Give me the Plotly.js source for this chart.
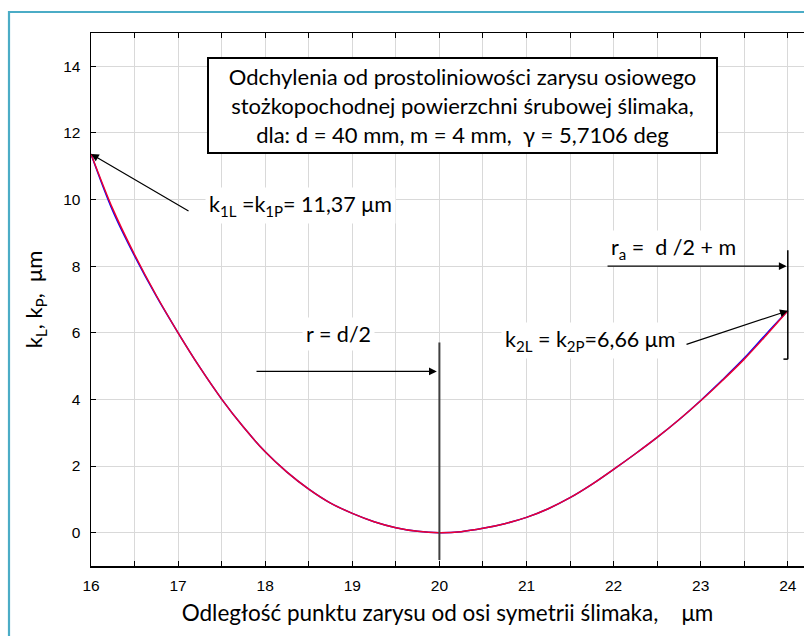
<!DOCTYPE html>
<html><head><meta charset="utf-8">
<script src="https://cdn.plot.ly/plotly-3.0.1.min.js"></script>
<style>html,body{margin:0;padding:0;background:#fff;overflow:hidden}#chart{width:804px;height:636px}</style>
</head><body><div id="chart"></div>
<script>
// distance from worm axis (x) and deviations k_L, k_P (µm)
const xVals = [16,16.25,16.5,16.75,17,17.25,17.5,17.75,18,18.25,18.5,18.75,19,19.25,19.5,19.75,20,
               20.25,20.5,20.75,21,21.25,21.5,21.75,22,22.25,22.5,22.75,23,23.25,23.5,23.75,24];
const kP = [11.37,9.72,8.35,7.12,6.00,4.96,4.01,3.17,2.43,1.82,1.31,0.89,0.58,0.33,0.15,0.04,0,
            0.03,0.13,0.27,0.46,0.72,1.05,1.45,1.90,2.37,2.86,3.39,3.96,4.57,5.21,5.92,6.66];
const kL = [11.37,9.66,8.31,7.10,6.00,4.96,4.01,3.17,2.43,1.82,1.31,0.89,0.58,0.33,0.15,0.04,0,
            0.03,0.13,0.27,0.46,0.72,1.05,1.45,1.90,2.37,2.86,3.39,3.97,4.59,5.24,5.96,6.66];
const xTickVals = [16,17,18,19,20,21,22,23,24];
const yTickVals = [0,2,4,6,8,10,12,14];
const k1 = 11.37, k2 = 6.66;
const r = 20, ra = 24;

const calib = 'Lato, "Open Sans", sans-serif';
const arial = '"Liberation Sans", Arial, sans-serif';
const NB = '\u00A0';

const traces = [
  {x:xVals, y:kL, type:'scatter', mode:'lines', name:'k_L', line:{color:'#0000ff', width:1.5, shape:'spline', smoothing:1}},
  {x:xVals, y:kP, type:'scatter', mode:'lines', name:'k_P', line:{color:'#ee0030', width:1.5, shape:'spline', smoothing:1}}
];

const ML = 91, MT = 33, MB = 70, MR = 0, W = 804, H = 636;
const PW = W - ML - MR, PH = H - MT - MB;
const px = v => (v - ML) / PW, py = v => (H - MB - v) / PH;

function arrow(x, y, ax, ay) {
  return {x:x, y:y, ax:ax, ay:ay, xref:'x', yref:'y', axref:'x', ayref:'y', text:'',
          showarrow:true, arrowhead:2, arrowsize:1.3, arrowwidth:1.2, arrowcolor:'#000'};
}
function label(x, y, text, xanchor, size) {
  return {x:x, y:y, xref:'x', yref:'y', text:text, showarrow:false, xanchor:xanchor||'center',
          yanchor:'middle', bgcolor:'#ffffff', borderpad:3, font:{family:calib, size:size||21.5, color:'#000'}};
}

const layout = {
  width:W, height:H,
  margin:{l:ML, r:MR, t:MT, b:MB},
  paper_bgcolor:'#fff', plot_bgcolor:'#fff',
  showlegend:false,
  xaxis:{
    range:[16, 16 + PW/87.1], tickvals:xTickVals, ticks:'inside', ticklen:5, tickcolor:'#000',
    showline:true, linecolor:'#000', linewidth:1.5, mirror:'ticks', zeroline:false,
    showgrid:true, gridcolor:'#d9d9d9', gridwidth:1,
    minor:{dtick:0.5, tick0:16, ticks:'inside', ticklen:5, tickcolor:'#000', showgrid:true, gridcolor:'#d9d9d9'},
    tickfont:{family:arial, size:15.5, color:'#000'}, ticklabelstandoff:5,
    title:{text:'Odległość punktu zarysu od osi symetrii ślimaka,'+NB+NB+NB+NB+'μm', font:{family:calib, size:22.5, color:'#000'}, standoff:12}
  },
  yaxis:{
    range:[-1, 15], tickvals:yTickVals, ticks:'inside', ticklen:5, tickcolor:'#000',
    showline:true, linecolor:'#000', linewidth:1.5, zeroline:false,
    showgrid:true, gridcolor:'#d9d9d9', gridwidth:1,
    tickfont:{family:arial, size:15.5, color:'#000'}, ticklabelstandoff:6,
    title:{text:'k<sub>L</sub>, k<sub>P</sub>,'+NB+NB+'μm', font:{family:calib, size:22, color:'#000'}, standoff:14}
  },
  shapes:[
    {type:'rect', xref:'paper', yref:'paper', x0:px(9), x1:px(830), y0:py(680), y1:py(12),
     line:{color:'#4bacc6', width:2.2}, fillcolor:'rgba(0,0,0,0)', layer:'above'},
    {type:'line', xref:'x', yref:'y', x0:r, x1:r, y0:-0.82, y1:5.71, line:{color:'#404040', width:2}},
    {type:'line', xref:'x', yref:'y', x0:ra, x1:ra, y0:5.21, y1:8.48, line:{color:'#000', width:1.5}},
    {type:'line', xref:'x', yref:'y', x0:ra-0.05, x1:ra, y0:5.21, y1:5.21, line:{color:'#000', width:1.5}}
  ],
  annotations:[
    {x:20.265, y:12.83, xref:'x', yref:'y', showarrow:false, align:'center',
     text:'Odchylenia od prostoliniowości zarysu osiowego<br>stożkopochodnej powierzchni śrubowej ślimaka,<br>dla: d = 40 mm, m = 4 mm,'+NB+NB+'γ = 5,7106 deg',
     bgcolor:'#fff', bordercolor:'#000', borderwidth:2, width:505, height:91,
     font:{family:calib, size:22, color:'#000'}},
    arrow(16, k1, 17.137, 9.63),
    label(17.31, 9.81, 'k<sub>1L</sub> =k<sub>1P</sub>= 11,37 μm', 'left'),
    label(18.836, 5.97, 'r = d/2'),
    arrow(19.97, 4.84, 17.883, 4.84),
    label(22.693, 8.52, 'r<sub>a</sub> ='+NB+NB+'d /2 + m'),
    arrow(23.987, 8.0, 21.913, 8.0),
    label(22.751, 5.76, 'k<sub>2L</sub> = k<sub>2P</sub>=6,66 μm', 'right'),
    arrow(ra, k2, 22.82, 5.64)
  ]
};

Plotly.newPlot('chart', traces, layout, {displayModeBar:false, staticPlot:true});
</script>
</body></html>
